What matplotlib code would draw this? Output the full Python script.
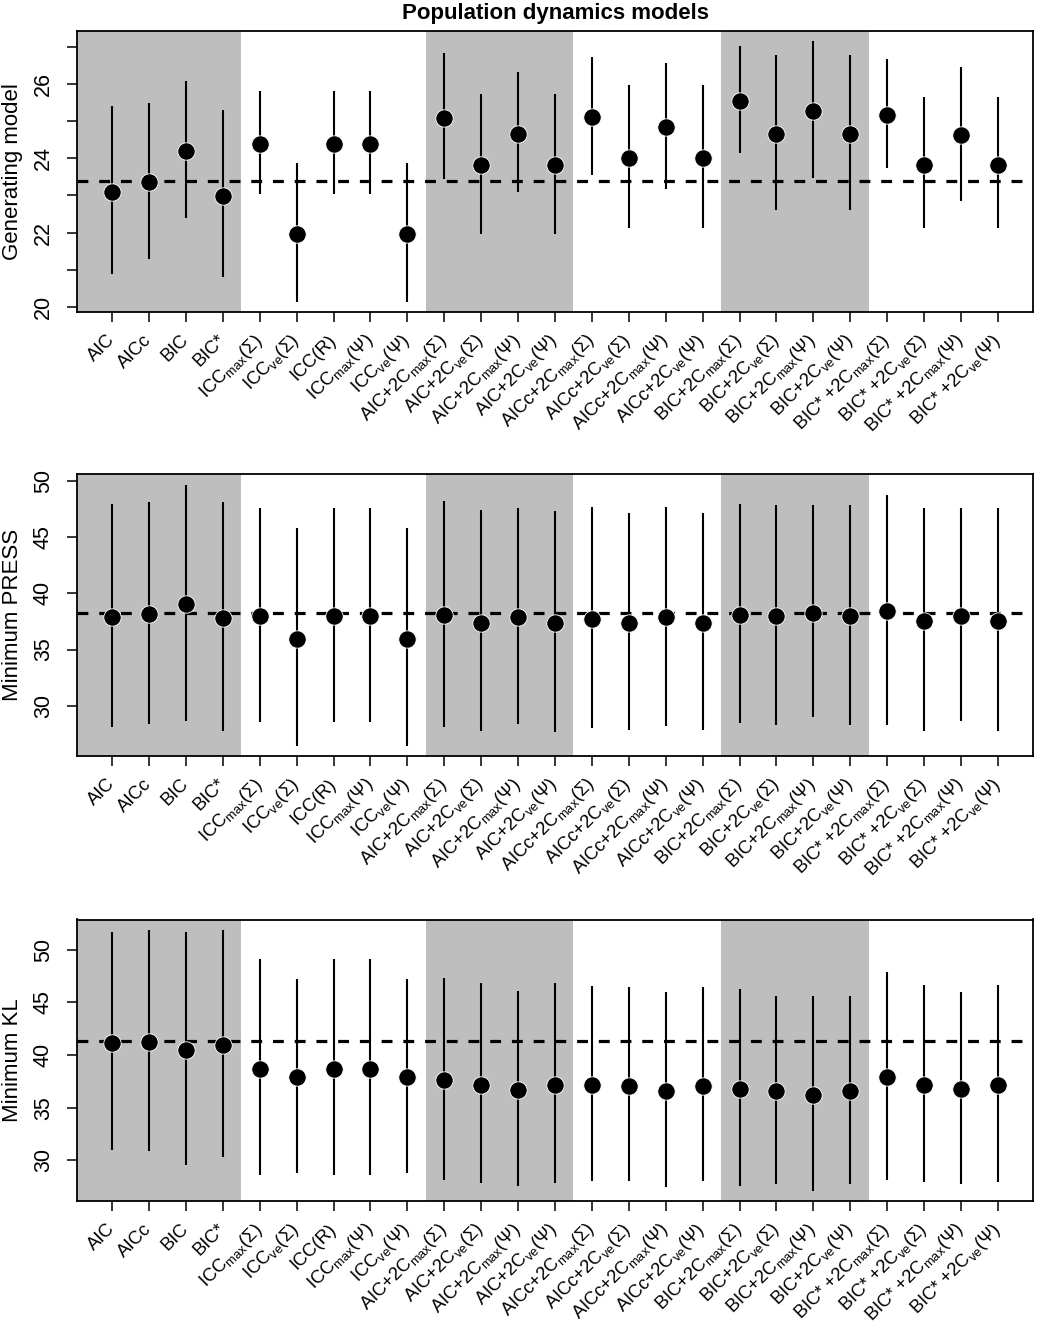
import matplotlib
matplotlib.use("Agg")
import matplotlib.pyplot as plt
from matplotlib.ticker import MultipleLocator

plt.rcParams['font.family'] = ['Liberation Sans', 'DejaVu Sans']
plt.rcParams['mathtext.fontset'] = 'custom'
plt.rcParams['mathtext.rm'] = 'Liberation Sans'
plt.rcParams['mathtext.it'] = 'Liberation Sans:italic'
plt.rcParams['mathtext.bf'] = 'Liberation Sans:bold'

# criterion names
labels = [
    'AIC', 'AICc', 'BIC', 'BIC*',
    'ICC$_{\\mathrm{max}}$(Σ)', 'ICC$_{\\mathrm{ve}}$(Σ)', 'ICC(R)',
    'ICC$_{\\mathrm{max}}$(Ψ)', 'ICC$_{\\mathrm{ve}}$(Ψ)',
    'AIC+2C$_{\\mathrm{max}}$(Σ)', 'AIC+2C$_{\\mathrm{ve}}$(Σ)',
    'AIC+2C$_{\\mathrm{max}}$(Ψ)', 'AIC+2C$_{\\mathrm{ve}}$(Ψ)',
    'AICc+2C$_{\\mathrm{max}}$(Σ)', 'AICc+2C$_{\\mathrm{ve}}$(Σ)',
    'AICc+2C$_{\\mathrm{max}}$(Ψ)', 'AICc+2C$_{\\mathrm{ve}}$(Ψ)',
    'BIC+2C$_{\\mathrm{max}}$(Σ)', 'BIC+2C$_{\\mathrm{ve}}$(Σ)',
    'BIC+2C$_{\\mathrm{max}}$(Ψ)', 'BIC+2C$_{\\mathrm{ve}}$(Ψ)',
    'BIC* +2C$_{\\mathrm{max}}$(Σ)', 'BIC* +2C$_{\\mathrm{ve}}$(Σ)',
    'BIC* +2C$_{\\mathrm{max}}$(Ψ)', 'BIC* +2C$_{\\mathrm{ve}}$(Ψ)',
]
# group sizes, every other group shaded
groups = [4, 5, 4, 4, 4, 4]

# generating model
gen_mid = [23.09, 23.36, 24.19, 22.98, 24.38, 21.96, 24.38, 24.38, 21.96,
           25.08, 23.81, 24.65, 23.81, 25.12, 24.02, 24.83, 24.02,
           25.55, 24.65, 25.28, 24.65, 25.17, 23.83, 24.62, 23.83]
gen_lo = [20.88, 21.30, 22.38, 20.79, 23.05, 20.14, 23.05, 23.05, 20.14,
          23.43, 21.97, 23.09, 21.97, 23.56, 22.11, 23.18, 22.11,
          24.13, 22.61, 23.46, 22.61, 23.74, 22.11, 22.84, 22.11]
gen_hi = [25.41, 25.48, 26.09, 25.30, 25.82, 23.88, 25.82, 25.82, 23.88,
          26.84, 25.73, 26.32, 25.73, 26.73, 25.98, 26.57, 25.98,
          27.03, 26.78, 27.16, 26.78, 26.68, 25.65, 26.47, 25.65]
gen_ref = 23.38

# minimum PRESS
press_mid = [37.89, 38.12, 39.04, 37.83, 37.94, 35.95, 37.94, 37.94, 35.95,
             38.03, 37.38, 37.86, 37.38, 37.71, 37.38, 37.86, 37.38,
             38.06, 37.98, 38.24, 37.98, 38.39, 37.50, 37.98, 37.50]
press_lo = [28.09, 28.38, 28.68, 27.79, 28.56, 26.47, 28.56, 28.56, 26.47,
            28.15, 27.74, 28.38, 27.70, 28.06, 27.88, 28.24, 27.88,
            28.44, 28.32, 28.97, 28.32, 28.32, 27.74, 28.68, 27.74]
press_hi = [47.95, 48.09, 49.63, 48.15, 47.56, 45.80, 47.56, 47.56, 45.80,
            48.18, 47.36, 47.56, 47.30, 47.65, 47.15, 47.65, 47.15,
            47.95, 47.83, 47.83, 47.83, 48.77, 47.59, 47.56, 47.59]
press_ref = 38.24

# minimum KL
kl_mid = [41.17, 41.21, 40.48, 40.95, 38.69, 37.88, 38.69, 38.69, 37.88,
          37.60, 37.19, 36.72, 37.19, 37.19, 37.09, 36.56, 37.09,
          36.78, 36.59, 36.25, 36.59, 37.88, 37.19, 36.78, 37.19]
kl_lo = [31.00, 30.85, 29.59, 30.34, 28.62, 28.80, 28.62, 28.62, 28.80,
         28.14, 27.89, 27.61, 27.89, 28.08, 28.02, 27.45, 28.02,
         27.55, 27.77, 27.14, 27.77, 28.14, 27.99, 27.77, 27.99]
kl_hi = [51.69, 51.88, 51.72, 51.88, 49.08, 47.23, 49.08, 49.08, 47.23,
         47.33, 46.82, 46.07, 46.82, 46.58, 46.45, 45.98, 46.45,
         46.30, 45.64, 45.60, 45.64, 47.86, 46.61, 46.01, 46.61]
kl_ref = 41.36

W, H = 1039, 1326
fig = plt.figure(figsize=(W / 100, H / 100), dpi=100)

panels = [
    ('Generating model', gen_mid, gen_lo, gen_hi, gen_ref, 2, 1, 312),
    ('Minimum PRESS', press_mid, press_lo, press_hi, press_ref, 5, None, 756),
    ('Minimum KL', kl_mid, kl_lo, kl_hi, kl_ref, 5, None, 1201),
]

left_px, right_px, h_px = 76.7, 1033.3, 281.5
x = list(range(len(labels)))

for k, (ylab, mid, lo, hi, ref, major, minor, bot_px) in enumerate(panels):
    ax = fig.add_axes([left_px / W, 1 - bot_px / H, (right_px - left_px) / W, h_px / H])
    ax.margins(x=0.04, y=0.04)
    ax.vlines(x, lo, hi, color='black', lw=1.5, zorder=3)
    ax.plot(x, mid, 'o', color='black', ms=12.5, mec='white', mew=0.6, zorder=4)
    ax.autoscale_view()
    xl = ax.get_xlim()
    yl = ax.get_ylim()

    # shaded groups
    start = 0
    for g, n in enumerate(groups):
        if g % 2 == 0:
            a = start - 0.5 if start > 0 else xl[0] - 1
            ax.axvspan(a, start + n - 0.5, color='#bebebe', lw=0, zorder=0)
        start += n
    ax.axhline(ref, color='black', lw=2.3, dashes=(3.4, 3.4), zorder=2)
    ax.set_xlim(xl)
    ax.set_ylim(yl)

    ax.yaxis.set_major_locator(MultipleLocator(major))
    if minor:
        ax.yaxis.set_minor_locator(MultipleLocator(minor))
    ax.tick_params(axis='both', which='both', direction='out', length=7.5, width=1.1)
    ax.tick_params(axis='y', labelsize=15.5, pad=9)
    for t in ax.get_yticklabels():
        t.set_rotation(90)
        t.set_va('center')
    ax.set_xticks(x)
    ax.set_xticklabels(labels, rotation=45, ha='right', va='center',
                       rotation_mode='anchor', fontsize=13.2)
    ax.tick_params(axis='x', pad=11)
    for s in ax.spines.values():
        s.set_linewidth(1.3)
    ax.set_ylabel(ylab, fontsize=16)
    ax.yaxis.set_label_coords(-0.056, 0.5)

fig.text(555 / W, 1 - 13 / H, 'Population dynamics models', ha='center', va='center',
         fontsize=16, fontweight='bold')

fig.savefig('out.png', dpi=100)
